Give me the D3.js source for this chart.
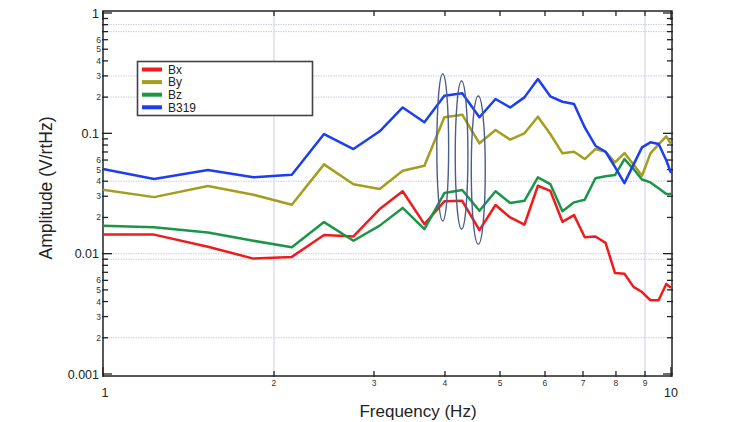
<!DOCTYPE html>
<html><head><meta charset="utf-8">
<script src="https://cdn.jsdelivr.net/npm/d3@7"></script>
<style>body{margin:0;background:#fff}svg{display:block}text{font-family:"Liberation Sans",Arial,sans-serif}</style>
</head><body><svg id="c" width="750" height="422"></svg>
<script>
const freqs = [1, 1.23, 1.53, 1.84, 2.15, 2.45, 2.76, 3.07, 3.37, 3.68, 3.99, 4.29, 4.6, 4.91, 5.21, 5.52, 5.83, 6.13, 6.44, 6.75, 7.05, 7.36, 7.67, 7.97, 8.28, 8.59, 8.89, 9.2, 9.51, 9.81, 10];
const bx = [0.0144, 0.0144, 0.0114, 0.0091, 0.0094, 0.0143, 0.0139, 0.0235, 0.0330, 0.0176, 0.0272, 0.0275, 0.0157, 0.0254, 0.0200, 0.0174, 0.0367, 0.0333, 0.0184, 0.0209, 0.0137, 0.0139, 0.0123, 0.0069, 0.0068, 0.0053, 0.0048, 0.0041, 0.0041, 0.0056, 0.0052];
const by = [0.0340, 0.0295, 0.0365, 0.0309, 0.0255, 0.0552, 0.0377, 0.0344, 0.0489, 0.0538, 0.136, 0.143, 0.0826, 0.1066, 0.0885, 0.100, 0.1375, 0.0987, 0.0682, 0.0703, 0.0611, 0.0740, 0.0703, 0.0574, 0.0686, 0.0550, 0.0444, 0.0682, 0.0810, 0.0944, 0.0815];
const bz = [0.0171, 0.0166, 0.0150, 0.0128, 0.0113, 0.0183, 0.0128, 0.0171, 0.0240, 0.0160, 0.0319, 0.0338, 0.0227, 0.0330, 0.0264, 0.0275, 0.0431, 0.0379, 0.0225, 0.0267, 0.0281, 0.0423, 0.0440, 0.0450, 0.0611, 0.0505, 0.0413, 0.0391, 0.0350, 0.0313, 0.0313];
const b319 = [0.0505, 0.0417, 0.0495, 0.0431, 0.0453, 0.0987, 0.0740, 0.104, 0.164, 0.1235, 0.205, 0.215, 0.136, 0.193, 0.164, 0.199, 0.283, 0.203, 0.183, 0.175, 0.112, 0.0789, 0.0703, 0.0525, 0.0386, 0.0550, 0.0765, 0.0842, 0.0815, 0.0597, 0.0468];
const seriesNames = ["Bx", "By", "Bz", "B319"];
const seriesColors = ["#ee1c1c", "#a39e1e", "#1b9548", "#1c3ef0"];
const yMajor = [1, 0.1, 0.01, 0.001];
const yMajorLabels = ["1", "0.1", "0.01", "0.001"];
const yMinorLabels = ["2", "3", "4", "5", "6"];
const xMinorLabels = ["2", "3", "4", "5", "6", "7", "8", "9"];
const yGrid = [0.8, 0.7, 0.3, 0.2, 0.04, 0.01, 0.009, 0.002];
const xGrid = [2, 9];
// annotation ellipses: [fLeft, fRight, yTop, yBottom]
const ellipses = [[3.87, 4.06, 0.311, 0.0187], [4.17, 4.39, 0.272, 0.0160], [4.45, 4.71, 0.204, 0.0120]];

const svg = d3.select("#c");
const L = 103, R = 671, T = 13, B = 374;
const x = d3.scaleLog().domain([1, 10]).range([L, R]);
const y = d3.scaleLog().domain([0.001, 1]).range([B, T]);

// grid
svg.append("g").selectAll("line").data(yGrid).join("line")
  .attr("x1", L).attr("x2", R + 1).attr("y1", d => y(d)).attr("y2", d => y(d))
  .attr("stroke", "#c9c9ee").attr("stroke-width", 1).attr("stroke-dasharray", "1.5,1");
svg.append("g").selectAll("line").data(xGrid).join("line")
  .attr("y1", T - 2).attr("y2", B + 2).attr("x1", d => x(d)).attr("x2", d => x(d))
  .attr("stroke", "#c9cdee").attr("stroke-width", 1);

// minor/major tick values
const yTicksAll = [];
[0.001, 0.01, 0.1].forEach(dec => { for (let k = 1; k <= 9; k++) yTicksAll.push({v: dec * k, major: k === 1}); });
yTicksAll.push({v: 1, major: true});
const xTicksAll = [];
for (let k = 1; k <= 10; k++) xTicksAll.push({v: k, major: k === 1 || k === 10});

// frame
svg.append("rect").attr("x", L).attr("y", T - 2).attr("width", R - L + 1).attr("height", B - T + 4)
  .attr("fill", "none").attr("stroke", "#222").attr("stroke-width", 1.5);

const tk = svg.append("g").attr("stroke", "#222").attr("stroke-width", 1.3);
yTicksAll.forEach(t => {
  const len = t.major ? 9 : 5;
  tk.append("line").attr("x1", L - 1).attr("x2", L + len).attr("y1", y(t.v)).attr("y2", y(t.v));
  tk.append("line").attr("x1", R + 2).attr("x2", R + 1 - len).attr("y1", y(t.v)).attr("y2", y(t.v));
});
xTicksAll.forEach(t => {
  const len = t.major ? 9 : 5;
  tk.append("line").attr("x1", x(t.v)).attr("x2", x(t.v)).attr("y1", B + 3).attr("y2", B + 2 - len);
  tk.append("line").attr("x1", x(t.v)).attr("x2", x(t.v)).attr("y1", T - 2).attr("y2", T - 2 + len);
});

// y labels
svg.append("g").selectAll("text").data(yMajor).join("text")
  .attr("x", 99).attr("y", d => y(d) + 4.5).attr("text-anchor", "end")
  .attr("font-size", 12.5).attr("fill", "#222").text((d, i) => yMajorLabels[i]);
const minorY = [];
[0.001, 0.01, 0.1].forEach(dec => yMinorLabels.forEach(l => minorY.push({v: dec * +l, l})));
svg.append("g").selectAll("text").data(minorY).join("text")
  .attr("x", 101).attr("y", d => y(d.v) + 3).attr("text-anchor", "end")
  .attr("font-size", 8.5).attr("fill", "#333").text(d => d.l);

// x labels
svg.append("g").selectAll("text").data(xMinorLabels).join("text")
  .attr("x", d => x(+d)).attr("y", 386).attr("text-anchor", "middle")
  .attr("font-size", 8.5).attr("fill", "#333").text(d => d);
svg.append("text").attr("x", x(1) + 2).attr("y", 397).attr("text-anchor", "middle").attr("font-size", 12.5).attr("fill", "#222").text("1");
svg.append("text").attr("x", x(10)).attr("y", 397).attr("text-anchor", "middle").attr("font-size", 12.5).attr("fill", "#222").text("10");

// axis titles
svg.append("text").attr("x", 418).attr("y", 417).attr("text-anchor", "middle").attr("font-size", 17).attr("fill", "#222").text("Frequency (Hz)");
svg.append("text").attr("transform", "translate(52,188) rotate(-90)").attr("text-anchor", "middle").attr("font-size", 17.5).attr("fill", "#222").text("Amplitude (V/rtHz)");

// lines
const line = d3.line().x(d => x(d[0])).y(d => y(d[1]));
[bx, by, bz, b319].forEach((vals, i) => {
  svg.append("path").datum(freqs.map((f, j) => [f, vals[j]]))
    .attr("d", line).attr("fill", "none").attr("stroke", seriesColors[i])
    .attr("stroke-width", 2.5).attr("stroke-linejoin", "round");
});

// ellipses
svg.append("g").selectAll("ellipse").data(ellipses).join("ellipse")
  .attr("cx", d => (x(d[0]) + x(d[1])) / 2).attr("rx", d => (x(d[1]) - x(d[0])) / 2)
  .attr("cy", d => (y(d[2]) + y(d[3])) / 2).attr("ry", d => (y(d[3]) - y(d[2])) / 2)
  .attr("fill", "none").attr("stroke", "#4b5d8c").attr("stroke-width", 1.4);

// legend
const lg = svg.append("g");
lg.append("rect").attr("x", 137.5).attr("y", 61.5).attr("width", 175).attr("height", 54)
  .attr("fill", "#fff").attr("stroke", "#444").attr("stroke-width", 1.6);
seriesNames.forEach((n, i) => {
  const yy = 69.5 + i * 12.6;
  lg.append("line").attr("x1", 142).attr("x2", 162).attr("y1", yy).attr("y2", yy)
    .attr("stroke", seriesColors[i]).attr("stroke-width", 4);
  lg.append("text").attr("x", 168).attr("y", yy + 4.3).attr("font-size", 12).attr("fill", "#222").text(n);
});
</script></body></html>
